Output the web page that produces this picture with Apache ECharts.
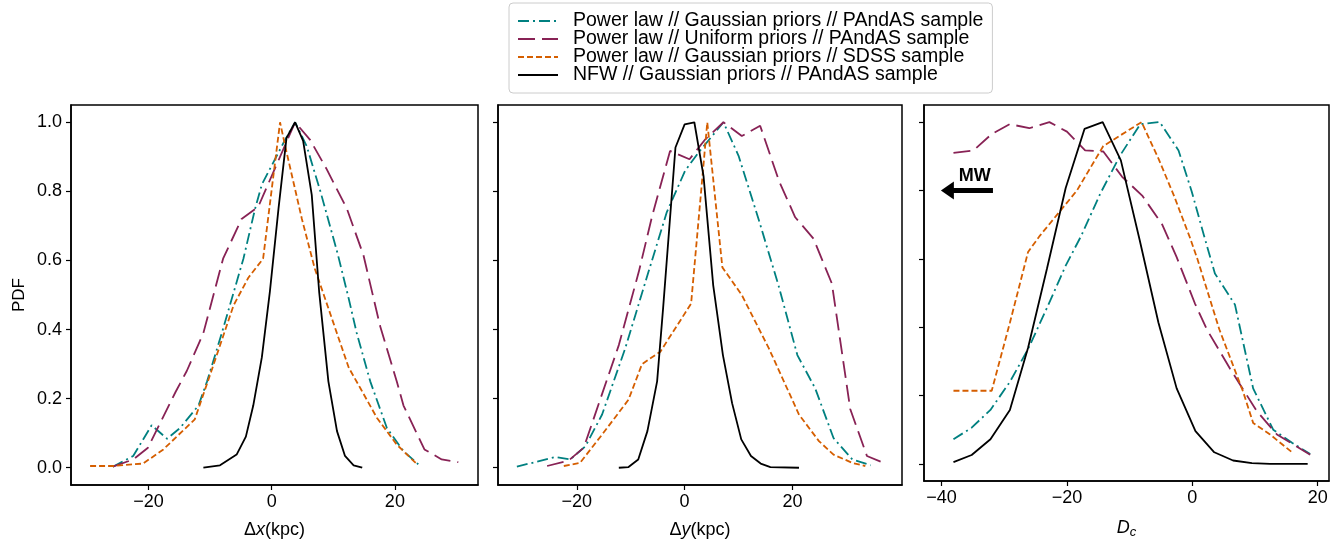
<!DOCTYPE html>
<html>
<head>
<meta charset="utf-8">
<script src="https://cdn.jsdelivr.net/npm/echarts@6/dist/echarts.min.js"></script>
<style>html,body{margin:0;padding:0;background:#fff}#c{width:1341px;height:544px}</style>
</head>
<body>
<div id="c"></div>
<script>
// ---- series names ----
const names = [
  'Power law // Gaussian priors // PAndAS sample',
  'Power law // Uniform priors // PAndAS sample',
  'Power law // Gaussian priors // SDSS sample',
  'NFW // Gaussian priors // PAndAS sample'
];
// ---- tick values ----
const xTicks1 = [-20, 0, 20];
const xTicks2 = [-20, 0, 20];
const xTicks3 = [-40, -20, 0, 20];
const yTicks = [0, 0.2, 0.4, 0.6, 0.8, 1.0];

// ---- panel 1: Δx ----
const dxTeal = [[-25.8,0.003],[-22.5,0.034],[-19.5,0.123],[-17.0,0.084],[-14.9,0.115],[-11.9,0.18],[-10.5,0.25],[-8.1,0.39],[-4.6,0.605],[-2.7,0.75],[-1.6,0.82],[0.0,0.875],[1.9,0.94],[3.8,1.0],[5.7,0.93],[7.9,0.80],[10.7,0.62],[12.5,0.49],[13.8,0.39],[16.0,0.25],[18.7,0.115],[21.4,0.048],[23.8,0.01]];
const dxPurple = [[-25.8,0.003],[-22.5,0.024],[-20.1,0.058],[-15.6,0.22],[-13.8,0.28],[-11.1,0.39],[-7.9,0.605],[-4.9,0.72],[-2.2,0.755],[3.8,1.0],[6.2,0.95],[8.9,0.865],[12.2,0.75],[14.9,0.615],[17.6,0.41],[20.3,0.25],[21.4,0.18],[24.8,0.053],[27.6,0.024],[30.3,0.016]];
const dxOrange = [[-29.5,0.005],[-25.8,0.005],[-20.9,0.012],[-17.6,0.053],[-12.5,0.14],[-9.8,0.28],[-6.2,0.47],[-3.8,0.55],[-1.4,0.605],[1.35,1.0],[2.2,0.93],[4.9,0.72],[7.0,0.576],[10.0,0.42],[12.5,0.29],[14.4,0.23],[17.1,0.144],[20.3,0.067],[23.6,0.01]];
const dxBlack = [[-11.1,0.0],[-8.4,0.007],[-5.7,0.038],[-4.2,0.09],[-3.0,0.18],[-1.6,0.32],[-0.3,0.51],[1.1,0.75],[2.4,0.955],[3.8,1.0],[5.1,0.946],[6.5,0.79],[7.7,0.51],[9.2,0.25],[10.6,0.106],[11.9,0.034],[13.3,0.007],[14.7,0.0]];

// ---- panel 2: Δy ----
const dyTeal = [[-31.1,0.003],[-24.0,0.031],[-21.2,0.024],[-18.4,0.062],[-15.3,0.154],[-11.0,0.346],[-6.7,0.567],[-3.3,0.74],[0.1,0.86],[2.6,0.913],[7.2,1.0],[10.0,0.903],[13.7,0.72],[17.4,0.528],[20.9,0.326],[24.2,0.23],[27.6,0.086],[31.1,0.024],[34.5,0.007]];
const dyPurple = [[-25.5,0.005],[-21.5,0.021],[-18.7,0.058],[-15.6,0.20],[-12.2,0.355],[-8.5,0.567],[-6.0,0.73],[-2.7,0.917],[0.9,0.893],[3.8,0.95],[7.2,1.0],[10.6,0.96],[14.0,0.99],[17.5,0.83],[20.5,0.725],[23.9,0.663],[27.3,0.533],[30.7,0.17],[33.8,0.034],[37.2,0.012]];
const dyOrange = [[-22.4,0.005],[-19.4,0.014],[-15.3,0.096],[-10.4,0.197],[-7.9,0.30],[-4.5,0.336],[1.2,0.475],[4.2,1.0],[7.0,0.58],[10.6,0.50],[15.6,0.346],[21.2,0.154],[24.9,0.077],[27.6,0.038],[31.1,0.014],[33.5,0.005]];
const dyBlack = [[-12.2,0.0],[-10.4,0.002],[-8.6,0.024],[-6.9,0.106],[-5.1,0.25],[-4.0,0.46],[-1.7,0.927],[0.0,0.994],[1.8,1.0],[3.5,0.845],[5.3,0.528],[6.0,0.45],[7.1,0.326],[8.8,0.187],[10.5,0.082],[12.3,0.034],[14.1,0.012],[15.9,0.002],[21.2,0.0]];

// ---- panel 3: D_c ----
const dcTeal = [[-38.1,0.072],[-35.2,0.106],[-32.2,0.158],[-29.1,0.24],[-26.2,0.336],[-23.2,0.456],[-20.2,0.58],[-17.7,0.668],[-14.7,0.79],[-11.5,0.903],[-8.3,0.994],[-5.2,1.0],[-2.2,0.917],[-0.1,0.797],[1.8,0.672],[3.6,0.557],[6.8,0.466],[9.7,0.221],[12.9,0.10],[15.9,0.062],[18.8,0.029]];
const dcPurple = [[-38.1,0.91],[-34.9,0.917],[-32.0,0.965],[-29.1,0.994],[-26.0,0.982],[-22.8,1.0],[-20.0,0.972],[-17.1,0.917],[-14.2,0.914],[-11.2,0.84],[-8.0,0.785],[-4.8,0.70],[-2.5,0.605],[0.4,0.47],[2.3,0.394],[6.0,0.279],[10.3,0.154],[13.5,0.086],[18.8,0.027]];
const dcOrange = [[-38.1,0.214],[-32.0,0.214],[-29.1,0.413],[-26.2,0.62],[-24.3,0.668],[-18.4,0.80],[-14.2,0.93],[-8.1,1.0],[-5.4,0.893],[-3.0,0.788],[-0.4,0.663],[0.8,0.6],[4.3,0.394],[8.1,0.211],[9.7,0.12],[12.4,0.086],[15.9,0.034]];
const dcBlack = [[-38.1,0.005],[-35.2,0.026],[-32.2,0.072],[-29.1,0.158],[-26.2,0.34],[-23.2,0.57],[-20.2,0.807],[-17.2,0.98],[-14.3,1.0],[-11.4,0.888],[-8.4,0.655],[-5.4,0.413],[-2.5,0.221],[0.5,0.096],[3.5,0.034],[6.5,0.01],[9.5,0.002],[12.4,0.0],[18.4,0.0]];

const FONT = '"Liberation Sans", Arial, Helvetica, sans-serif';
const colors = ['#008080', '#882255', '#d55e00', '#000000'];
const dashes = [[11, 4, 2, 4], [17, 7], [6, 3], 'solid'];

const panels = [
  {left: 71, width: 407, xmin: -32.6, xmax: 33.5, ticks: xTicks1, name: 'Δ{i|x}(kpc)', data: [dxTeal, dxPurple, dxOrange, dxBlack]},
  {left: 498, width: 404, xmin: -34.6, xmax: 40.3, ticks: xTicks2, name: 'Δ{i|y}(kpc)', data: [dyTeal, dyPurple, dyOrange, dyBlack]},
  {left: 924, width: 405, xmin: -42.8, xmax: 21.8, ticks: xTicks3, name: '{i|D}{s|c}', data: [dcTeal, dcPurple, dcOrange, dcBlack]}
];

const fmtX = v => (v < 0 ? '\u2212' + Math.abs(v) : String(v));

const grid = [], xAxis = [], yAxis = [], series = [];
panels.forEach((p, k) => {
  grid.push({left: p.left, top: 105, width: p.width, height: 382, show: true,
    borderColor: '#000', borderWidth: 1.5, backgroundColor: 'transparent'});
  xAxis.push({
    type: 'value', gridIndex: k, min: p.xmin, max: p.xmax,
    name: p.name, nameLocation: 'middle', nameGap: 36,
    nameTextStyle: {fontFamily: FONT, fontSize: 18, color: '#000',
      rich: {i: {fontFamily: FONT, fontSize: 18, fontStyle: 'italic', color: '#000'},
             s: {fontFamily: FONT, fontSize: 13, fontStyle: 'italic', color: '#000', padding: [9, 0, 0, 0]}}},
    axisLine: {show: true, onZero: false, lineStyle: {color: '#000', width: 1.5}},
    axisTick: {show: true, inside: false, length: 5, customValues: p.ticks, lineStyle: {color: '#000', width: 1.2}},
    axisLabel: {show: true, customValues: p.ticks, formatter: fmtX, margin: 8,
      fontFamily: FONT, fontSize: 18, color: '#000'},
    splitLine: {show: false}
  });
  yAxis.push({
    type: 'value', gridIndex: k, min: -0.05, max: 1.05,
    name: k === 0 ? 'PDF' : '', nameLocation: 'middle', nameGap: 43, nameRotate: 90,
    nameTextStyle: {fontFamily: FONT, fontSize: 17, color: '#000'},
    axisLine: {show: true, onZero: false, lineStyle: {color: '#000', width: 1.5}},
    axisTick: {show: true, inside: false, length: 5, customValues: yTicks, lineStyle: {color: '#000', width: 1.2}},
    axisLabel: {show: k === 0, customValues: yTicks, formatter: v => v.toFixed(1), margin: 9,
      fontFamily: FONT, fontSize: 18, color: '#000'},
    splitLine: {show: false}
  });
  p.data.forEach((d, j) => {
    const s = {
      type: 'line', name: names[j], xAxisIndex: k, yAxisIndex: k, data: d,
      symbol: 'none', smooth: false, animation: false,
      lineStyle: {color: colors[j], width: 1.8, type: dashes[j]},
      itemStyle: {color: colors[j]}
    };
    if (k === 2 && j === 3) {
      s.markLine = {
        silent: true, animation: false, symbol: ['none', 'triangle'], symbolSize: [18, 13],
        lineStyle: {color: '#000', width: 5, type: 'solid'}, itemStyle: {color: '#000'},
        label: {show: false},
        data: [[{coord: [-31.8, 0.80]}, {coord: [-39.07, 0.80]}]]
      };
      s.markPoint = {
        silent: true, animation: false,
        data: [{coord: [-34.7, 0.842], symbol: 'circle', symbolSize: 0,
          label: {show: true, position: 'inside', formatter: 'MW', fontFamily: FONT,
            fontWeight: 'bold', fontSize: 18, color: '#000'}}]
      };
    }
    series.push(s);
  });
});

const chart = echarts.init(document.getElementById('c'), null, {renderer: 'canvas'});
chart.setOption({
  animation: false,
  backgroundColor: '#fff',
  grid, xAxis, yAxis, series,
  legend: {
    orient: 'vertical', left: 509, top: 3,
    padding: [8, 9, 8, 8], itemWidth: 40, itemHeight: 14, itemGap: -2,
    borderColor: '#cccccc', borderWidth: 1, borderRadius: 4, backgroundColor: '#fff',
    itemStyle: {opacity: 0},
    textStyle: {fontFamily: FONT, fontSize: 19.5, lineHeight: 18, color: '#000', padding: [0, 0, 0, 10]},
    data: names
  }
});
</script>
</body>
</html>
